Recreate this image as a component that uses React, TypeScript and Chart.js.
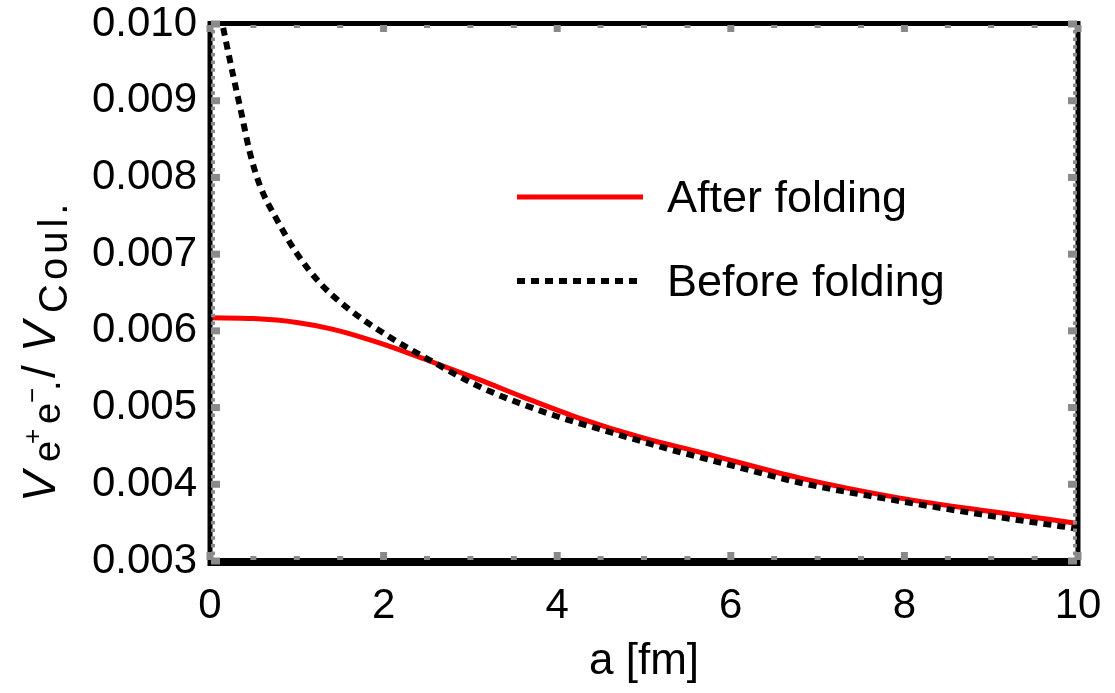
import { useEffect, useRef } from "react";
import { Chart, registerables } from "chart.js";

Chart.register(...registerables);

// Separation a [fm] and potential ratio, folded potential
const aAfter = [0, 0.5, 1.0, 1.42, 1.96, 2.5, 3.11, 3.6, 4.26, 5.0, 5.64, 6.8, 7.95, 9.1, 10];
const vAfter = [0.00617, 0.00616, 0.00611, 0.00602, 0.00584, 0.00562, 0.00536, 0.00514, 0.00486, 0.0046, 0.00442, 0.00408, 0.00382, 0.00363, 0.00349];

// Unfolded (point-like) potential
const aBefore = [0.12, 0.17, 0.27, 0.35, 0.46, 0.58, 0.77, 1.0, 1.27, 1.57, 2.04, 2.53, 3.11, 3.88, 4.64, 5.41, 5.96, 6.8, 7.95, 9.1, 10];
const vBefore = [0.01013, 0.00985, 0.00931, 0.0089, 0.00832, 0.00788, 0.00745, 0.00701, 0.00662, 0.00631, 0.00594, 0.00562, 0.00527, 0.00493, 0.00467, 0.00442, 0.00426, 0.00402, 0.00378, 0.00357, 0.00342];

const xTicks = [0, 2, 4, 6, 8, 10];
const yTicks = [0.003, 0.004, 0.005, 0.006, 0.007, 0.008, 0.009, 0.01];

const seriesNames = ["After folding", "Before folding"];
const xTitle = "a [fm]";

const FONT = '"Liberation Sans", Arial, Helvetica, sans-serif';

// run of the rotated y title: offset along the text (u) and across it (dy)
type Run = { t: string; size: number; u: number; dy: number; italic?: boolean; spacing?: number };

// V_{e+e-.} / V_{Coul.}
const yTitleRuns: Run[] = [
  { t: "V", size: 46, u: 0, dy: 0, italic: true },
  { t: "e", size: 38, u: 40, dy: 5 },
  { t: "+", size: 26, u: 58, dy: -14 },
  { t: "e", size: 38, u: 78, dy: 5 },
  { t: "\u2212", size: 26, u: 99, dy: -14 },
  { t: ".", size: 38, u: 111, dy: 5 },
  { t: "/", size: 46, u: 124, dy: 0 },
  { t: "V", size: 46, u: 150, dy: 0, italic: true },
  { t: "Coul.", size: 40, u: 189, dy: 12, spacing: 4 },
];

const decorPlugin = {
  id: "decor",
  afterDatasetsDraw(chart: any) {
    const { ctx, chartArea: a, scales } = chart;
    const xs = scales.x;
    const ys = scales.y;
    ctx.save();

    // frame
    ctx.fillStyle = "#000";
    const w = a.right - a.left;
    const h = a.bottom - a.top;
    ctx.fillRect(a.left - 2, a.top - 3, w + 4, 5);
    ctx.fillRect(a.left - 2, a.bottom - 3, w + 4, 8);
    ctx.fillRect(a.left - 2.5, a.top - 3, 5, h + 8);
    ctx.fillRect(a.right - 2.5, a.top - 3, 5, h + 8);

    // grey tick marks on all four sides
    ctx.fillStyle = "#8a8a8a";
    for (let i = 0; i <= 20; i++) {
      const px = xs.getPixelForValue(i * 0.5);
      const major = i % 4 === 0;
      const tw = major ? 7 : 6;
      const tl = major ? 8 : 4;
      ctx.fillRect(px - tw / 2, a.bottom - 3 - tl + 2, tw, tl);
      ctx.fillRect(px - tw / 2, a.top + 1, tw, tl - 1);
    }
    for (let i = 0; i <= 70; i++) {
      const py = ys.getPixelForValue(0.003 + i * 0.0001);
      const major = i % 10 === 0;
      const tw = major ? 7 : 3.5;
      const tl = major ? 9 : 4;
      ctx.fillRect(a.left + 1, py - tw / 2, tl, tw);
      ctx.fillRect(a.right - 1 - tl, py - tw / 2, tl, tw);
    }

    // legend
    ctx.lineCap = "butt";
    ctx.strokeStyle = "#ff0000";
    ctx.lineWidth = 5;
    ctx.beginPath();
    ctx.moveTo(517, 197);
    ctx.lineTo(643, 197);
    ctx.stroke();
    ctx.strokeStyle = "#000";
    ctx.lineWidth = 6;
    ctx.setLineDash([8, 6]);
    ctx.beginPath();
    ctx.moveTo(517, 281);
    ctx.lineTo(643, 281);
    ctx.stroke();
    ctx.setLineDash([]);
    ctx.fillStyle = "#000";
    ctx.font = `45px ${FONT}`;
    ctx.textAlign = "left";
    ctx.textBaseline = "middle";
    ctx.fillText(seriesNames[0], 667, 200);
    ctx.fillText(seriesNames[1], 667, 284);

    // x-axis title
    ctx.font = `44px ${FONT}`;
    ctx.textAlign = "center";
    ctx.fillText(xTitle, (a.left + a.right) / 2, 662);

    // y-axis title, rotated
    ctx.save();
    ctx.translate(55, 502);
    ctx.rotate(-Math.PI / 2);
    ctx.textAlign = "left";
    ctx.textBaseline = "alphabetic";
    for (const r of yTitleRuns) {
      ctx.font = `${r.italic ? "italic " : ""}${r.size}px ${FONT}`;
      (ctx as any).letterSpacing = `${r.spacing || 0}px`;
      ctx.fillText(r.t, r.u, r.dy);
    }
    (ctx as any).letterSpacing = "0px";
    ctx.restore();

    ctx.restore();
  },
};

export default function App() {
  const ref = useRef<HTMLCanvasElement | null>(null);

  useEffect(() => {
    if (!ref.current) return;
    const chart = new Chart(ref.current, {
      type: "scatter",
      data: {
        datasets: [
          {
            label: seriesNames[0],
            data: aAfter.map((x, i) => ({ x, y: vAfter[i] })),
            showLine: true,
            borderColor: "#ff0000",
            borderWidth: 5,
            pointRadius: 0,
            cubicInterpolationMode: "monotone",
            clip: 0,
            order: 1,
          },
          {
            label: seriesNames[1],
            data: aBefore.map((x, i) => ({ x, y: vBefore[i] })),
            showLine: true,
            borderColor: "#000000",
            borderWidth: 6,
            borderDash: [8, 6],
            pointRadius: 0,
            cubicInterpolationMode: "monotone",
            clip: 0,
            order: 0,
          },
        ],
      },
      options: {
        animation: false,
        responsive: false,
        devicePixelRatio: 1,
        layout: { padding: { top: 24, right: 37, left: 0, bottom: 0 } },
        plugins: { legend: { display: false }, tooltip: { enabled: false } },
        scales: {
          x: {
            type: "linear",
            min: 0,
            max: 10,
            grid: { display: false, drawTicks: false },
            border: { display: false },
            afterBuildTicks: (s: any) => {
              s.ticks = xTicks.map((v) => ({ value: v }));
            },
            afterFit: (s: any) => {
              s.height = 132;
              s.paddingLeft = 0;
              s.paddingRight = 0;
            },
            ticks: {
              color: "#000",
              font: { family: FONT, size: 42 },
              padding: 20,
              maxRotation: 0,
              callback: (v: any) => String(v),
            },
          },
          y: {
            type: "linear",
            min: 0.003,
            max: 0.01,
            grid: { display: false, drawTicks: false },
            border: { display: false },
            afterBuildTicks: (s: any) => {
              s.ticks = yTicks.map((v) => ({ value: v }));
            },
            afterFit: (s: any) => {
              s.width = 210;
              s.paddingTop = 0;
              s.paddingBottom = 0;
            },
            ticks: {
              color: "#000",
              font: { family: FONT, size: 42 },
              padding: 13,
              callback: (v: any) => Number(v).toFixed(3),
            },
          },
        },
      },
      plugins: [decorPlugin],
    } as any);
    return () => chart.destroy();
  }, []);

  return (
    <div style={{ position: "absolute", left: 0, top: 0, width: 1115, height: 693, background: "#fff" }}>
      <canvas ref={ref} width={1115} height={693} style={{ display: "block" }} />
    </div>
  );
}
